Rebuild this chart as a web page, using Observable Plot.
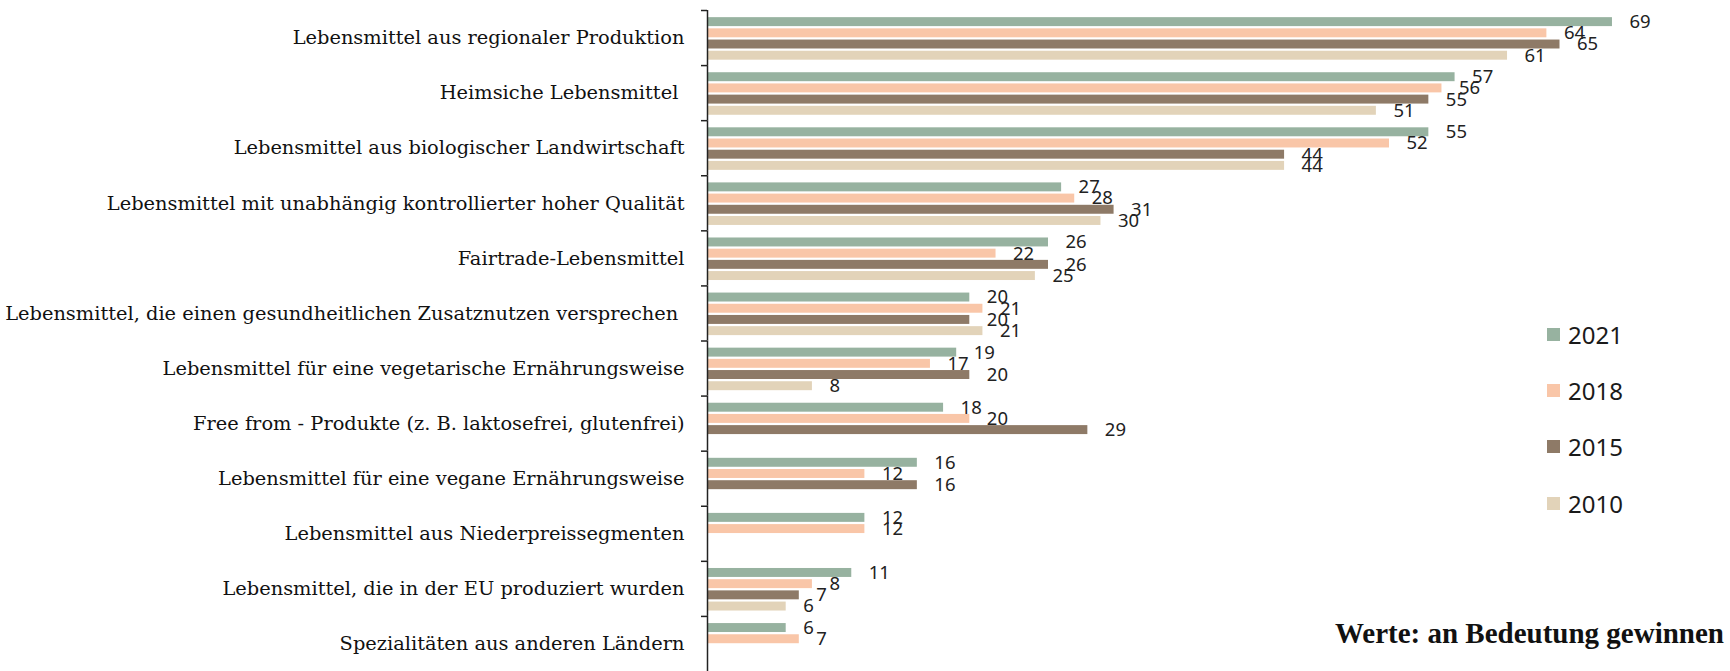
<!DOCTYPE html>
<html><head><meta charset="utf-8">
<script src="https://cdn.jsdelivr.net/npm/d3@7"></script>
<script src="https://cdn.jsdelivr.net/npm/@observablehq/plot@0.6"></script>
<style>
body{margin:0;background:#fff;}
#wrap{position:relative;width:1730px;height:671px;overflow:hidden;background:#fff;}
#legend{position:absolute;left:1547px;top:306px;font-family:"Noto Sans";font-size:24px;color:#1a1a1a;}
.row{display:flex;align-items:center;height:56.3px;}
.sw{width:13px;height:13px;margin-right:8px;}
#note{position:absolute;right:6px;top:617px;font-family:"Liberation Serif";font-weight:bold;font-size:29px;color:#111;white-space:nowrap;}
</style></head><body><div id="wrap"></div>
<script>
const categories = [
  "Lebensmittel aus regionaler Produktion",
  "Heimsiche Lebensmittel ",
  "Lebensmittel aus biologischer Landwirtschaft",
  "Lebensmittel mit unabhängig kontrollierter hoher Qualität",
  "Fairtrade-Lebensmittel",
  "Lebensmittel, die einen gesundheitlichen Zusatznutzen versprechen ",
  "Lebensmittel für eine vegetarische Ernährungsweise",
  "Free from - Produkte (z. B. laktosefrei, glutenfrei)",
  "Lebensmittel für eine vegane Ernährungsweise",
  "Lebensmittel aus Niederpreissegmenten",
  "Lebensmittel, die in der EU produziert wurden",
  "Spezialitäten aus anderen Ländern"
];
const years = ["2021", "2018", "2015", "2010"];
const v2021 = [69, 57, 55, 27, 26, 20, 19, 18, 16, 12, 11, 6];
const v2018 = [64, 56, 52, 28, 22, 21, 17, 20, 12, 12, 8, 7];
const v2015 = [65, 55, 44, 31, 26, 20, 20, 29, 16, null, 7, null];
const v2010 = [61, 51, 44, 30, 25, 21, 8, null, null, null, 6, null];
const colors = ["#97B2A0", "#F9C6A8", "#8E7A67", "#E2D3B9"];
const noteText = "Werte: an Bedeutung gewinnen";

const series = [v2021, v2018, v2015, v2010];
const data = [];
categories.forEach((c, i) => {
  series.forEach((arr, j) => {
    if (arr[i] != null) data.push({cat: c, year: years[j], value: arr[i]});
  });
});

const H = 671, TOP = 10;
const step = (H - TOP) / categories.length;

const plot = Plot.plot({
  width: 1730, height: H,
  marginLeft: 707, marginRight: 0, marginTop: TOP, marginBottom: 0,
  x: {domain: [0, 78], axis: null},
  y: {domain: years, axis: null, paddingInner: 0.2, paddingOuter: 0.56, align: 0.57, round: false},
  fy: {domain: categories, padding: 0, round: false, label: null},
  color: {domain: years, range: colors},
  style: {background: "white", color: "#111", overflow: "visible"},
  marks: [
    Plot.barX(data, {fy: "cat", y: "year", x: "value", fill: "year"}),
    Plot.text(data, {fy: "cat", y: "year", x: "value", text: d => String(d.value),
      textAnchor: "start", dx: 17, fontSize: 18.5, fontFamily: "Noto Sans", fill: "#222"}),
    Plot.ruleX([0], {stroke: "#222", strokeWidth: 1.5}),
    Plot.axisFy({anchor: "left", tickSize: 0, tickPadding: 23, fontSize: 19.4, fontFamily: "DejaVu Serif", label: null}),
    Plot.axisFy({anchor: "left", tickSize: 6, tickFormat: () => "", dy: -step / 2, stroke: "#222", strokeWidth: 1.5, label: null})
  ]
});

const wrap = document.getElementById("wrap");
wrap.appendChild(plot);

const colorScale = plot.scale("color");
const legend = document.createElement("div");
legend.id = "legend";
colorScale.domain.forEach((yr, i) => {
  const row = document.createElement("div");
  row.className = "row";
  const sw = document.createElement("div");
  sw.className = "sw";
  sw.style.background = colorScale.range[i];
  const t = document.createElement("span");
  t.textContent = yr;
  row.appendChild(sw); row.appendChild(t);
  legend.appendChild(row);
});
wrap.appendChild(legend);

const note = document.createElement("div");
note.id = "note";
note.textContent = noteText;
wrap.appendChild(note);
</script>
</body></html>
